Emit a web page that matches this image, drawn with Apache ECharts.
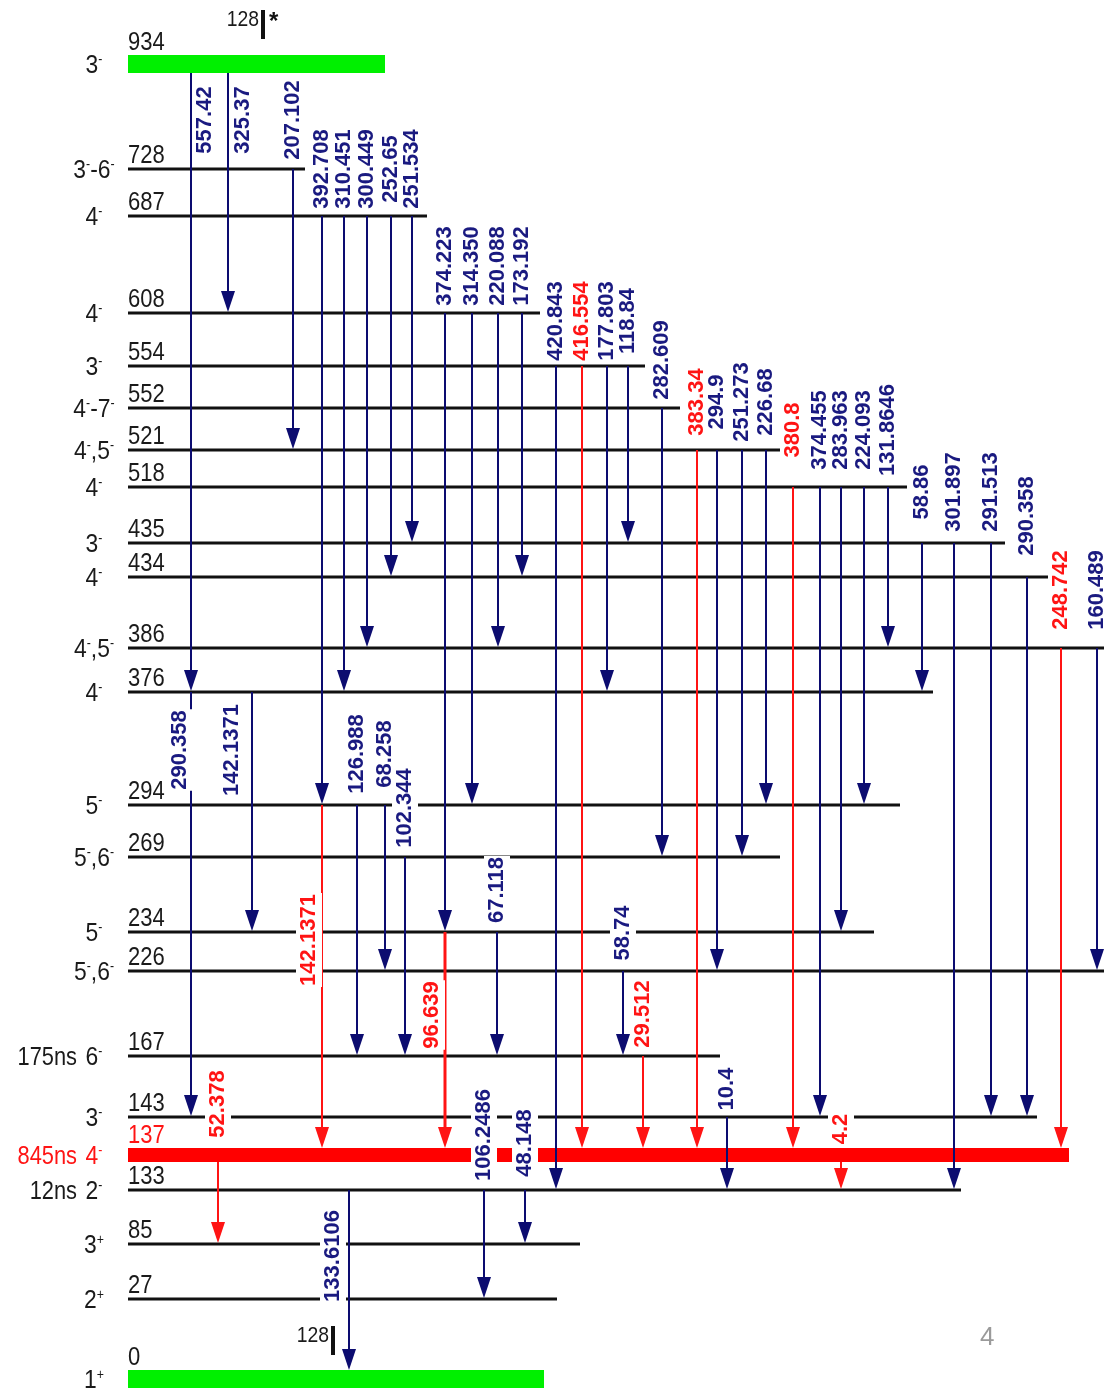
<!DOCTYPE html>
<html>
<head>
<meta charset="utf-8">
<script src="https://cdn.jsdelivr.net/npm/echarts@6/dist/echarts.min.js"></script>
<style>
html, body { margin: 0; padding: 0; background: #fff; }
#chart { width: 1104px; height: 1390px; }
</style>
</head>
<body>
<div id="chart"></div>
<script>
// ---- levels (keV) ----
var levelEnergy = [934, 728, 687, 608, 554, 552, 521, 518, 435, 434, 386, 376, 294, 269, 234, 226, 167, 143, 137, 133, 85, 27, 0];
var levelSpin = ['3^-', '3^--6^-', '4^-', '4^-', '3^-', '4^--7^-', '4^-,5^-', '4^-', '3^-', '4^-', '4^-,5^-', '4^-',
    '5^-', '5^-,6^-', '5^-', '5^-,6^-', '6^-', '3^-', '4^-', '2^-', '3^+', '2^+', '1^+'];
var levelHalfLife = ['', '', '', '', '', '', '', '', '', '', '', '', '', '', '', '', '175ns', '', '845ns', '12ns', '', '', ''];
var greenLevels = [934, 0];
var isomerLevels = [137];

// schematic placement of the levels on the drawing
var levelRow = [64, 169, 216, 313, 366, 408, 450, 487, 543, 577, 648, 692, 805, 857, 932, 971, 1056, 1117, 1155, 1190, 1244, 1299, 1379];
var levelEnd = [385, 305, 427, 540, 645, 680, 780, 907, 1005, 1048, 1104, 933, 900, 780, 874, 1104, 720, 1037, 1069, 961, 580, 557, 544];

// ---- gamma transitions ----
var gammaLabel = ['557.42', '325.37', '207.102', '392.708', '310.451', '300.449', '252.65', '251.534',
    '374.223', '314.350', '220.088', '173.192', '420.843', '416.554', '177.803', '118.84', '282.609',
    '383.34', '294.9', '251.273', '226.68', '380.8', '374.455', '283.963', '224.093', '131.8646',
    '58.86', '301.897', '291.513', '290.358', '248.742', '160.489', '290.358', '142.1371', '126.988',
    '68.258', '102.344', '142.1371', '67.118', '96.639', '58.74', '29.512', '10.4', '52.378', '4.2',
    '106.2486', '48.148', '133.6106'];
var gammaFrom = [934, 934, 728, 687, 687, 687, 687, 687, 608, 608, 608, 608, 554, 554, 554, 554, 552,
    521, 521, 521, 521, 518, 518, 518, 518, 518, 435, 435, 435, 434, 386, 386, 376, 376, 294,
    294, 269, 294, 234, 234, 226, 167, 143, 137, 137, 133, 133, 133];
var gammaTo = [376, 608, 521, 294, 376, 386, 434, 435, 234, 294, 386, 434, 133, 137, 376, 435, 269,
    137, 226, 269, 294, 137, 143, 234, 294, 386, 376, 133, 143, 143, 137, 226, 143, 234, 167,
    226, 167, 137, 167, 137, 167, 137, 133, 85, 133, 27, 85, 0];
var gammaRed = [0, 0, 0, 0, 0, 0, 0, 0, 0, 0, 0, 0, 0, 1, 0, 0, 0, 1, 0, 0, 0, 1, 0, 0, 0, 0,
    0, 0, 0, 0, 1, 0, 0, 0, 0, 0, 0, 1, 0, 1, 0, 1, 0, 1, 1, 0, 0, 0];

// layout of the arrows: column and where the rotated label sits
var gammaX = [191, 228, 293, 322, 344, 367, 391, 412, 445, 472, 498, 522, 556, 582, 607, 628, 662,
    697, 717, 742, 766, 793, 820, 841, 864, 888, 922, 954, 991, 1027, 1061, 1097, 191, 252, 357,
    385, 405, 322, 497, 445, 623, 643, 727, 218, 841, 484, 525, 349];
var gammaLabelY = [120, 120, 120, 169, 169, 169, 169, 169, 266, 266, 266, 266, 321, 321, 321, 321, 360,
    402, 402, 402, 402, 430, 430, 430, 430, 430, 492, 492, 492, 516, 590, 590, 750, 750, 754,
    754, 808, 940, 890, 1015, 933, 1014, 1089, 1104, 1129, 1135, 1143, 1256];
var gammaLabelDx = [14, 15, 0, 0, 0, 0, 0, 0, 0, 0, 0, 0, 0, 0, 0, 0, 0, 0, 0, 0, 0, 0, 0, 0, 0, 0,
    0, 0, 0, 0, 0, 0, -11, -20, 0, 0, 0, -13, 0, -13, 0, 0, 0, 0, 0, 0, 0, -16];

// isomer markers (128 ...)
var markerText = ['128', '128'];
var markerStar = ['*', ''];
var markerX = [261, 331];
var markerRow = [24, 1340];

var LEVEL_X0 = 128;
var NAVY = '#0c0c70';
var RED = '#ff1414';
var SANS = '"Liberation Sans", Arial, Helvetica, sans-serif';
var NARROW_SCALE = 0.88;   // the scheme uses a condensed face

var rowOf = {};
levelEnergy.forEach(function (e, i) { rowOf[e] = levelRow[i]; });

function halfThick(e) {
    if (greenLevels.indexOf(e) >= 0) return 9;
    if (isomerLevels.indexOf(e) >= 0) return 7;
    return 1.5;
}

function spinRich(t) {
    return t.split(/(\^[-+])/).filter(Boolean).map(function (p) {
        return p.charAt(0) === '^' ? '{s|' + p.charAt(1) + '}' : '{a|' + p + '}';
    }).join('');
}

var myChart = echarts.init(document.getElementById('chart'));

function renderLevel(params, api) {
    var e = api.value(0);
    var row = api.value(1);
    var p0 = api.coord([LEVEL_X0, row]);
    var p1 = api.coord([api.value(2), row]);
    var h = halfThick(e);
    var isIso = isomerLevels.indexOf(e) >= 0;
    var txt = isIso ? RED : '#1a1a1a';
    var children = [];
    if (h > 2) {
        children.push({
            type: 'rect',
            shape: { x: p0[0], y: p0[1] - h, width: p1[0] - p0[0], height: 2 * h },
            style: { fill: isIso ? '#ff0000' : '#00f000' }
        });
    } else {
        children.push({
            type: 'line',
            shape: { x1: p0[0], y1: p0[1], x2: p1[0], y2: p1[1] },
            style: { stroke: '#111', lineWidth: 3 }
        });
    }
    children.push({
        type: 'text', x: p0[0], y: p0[1] - h + 1, scaleX: NARROW_SCALE,
        style: { text: String(e), fill: txt, font: '25px ' + SANS, align: 'left', verticalAlign: 'bottom' }
    });
    var sx = api.coord([94, row]);
    children.push({
        type: 'text', x: sx[0], y: sx[1] + 2, scaleX: NARROW_SCALE,
        style: {
            text: spinRich(levelSpin[params.dataIndex]), align: 'center', verticalAlign: 'middle',
            rich: {
                a: { fontSize: 26, fontFamily: SANS, fill: txt },
                s: { fontSize: 14, fontFamily: SANS, fill: txt, verticalAlign: 'top' }
            }
        }
    });
    var hl = levelHalfLife[params.dataIndex];
    if (hl) {
        var hx = api.coord([77, row]);
        children.push({
            type: 'text', x: hx[0], y: hx[1] + 2, scaleX: 0.84,
            style: { text: hl, fill: txt, font: '26px ' + SANS, align: 'right', verticalAlign: 'middle' }
        });
    }
    return { type: 'group', children: children };
}

function renderGamma(params, api) {
    var i = params.dataIndex;
    var from = api.value(0), to = api.value(1), x = api.value(2);
    var a = api.coord([x, rowOf[from]]);
    var b = api.coord([x, rowOf[to]]);
    var y0 = a[1] + (halfThick(from) > 2 ? halfThick(from) : 0);
    var tip = b[1] - (halfThick(to) > 2 ? halfThick(to) : 1);
    var color = gammaRed[i] ? RED : NAVY;
    var w = gammaLabel[i] === '96.639' ? 3 : 2;
    return {
        type: 'group',
        children: [{
            type: 'line',
            shape: { x1: a[0], y1: y0, x2: a[0], y2: tip - 16 },
            style: { stroke: color, lineWidth: w }
        }, {
            type: 'polygon',
            shape: { points: [[a[0] - 7, tip - 21], [a[0] + 7, tip - 21], [a[0], tip]] },
            style: { fill: color }
        }]
    };
}

function renderGammaLabel(params, api) {
    var i = params.dataIndex;
    var p = api.coord([api.value(0) + api.value(2), api.value(1)]);
    return {
        type: 'text', x: p[0], y: p[1], rotation: Math.PI / 2,
        style: {
            text: gammaLabel[i], fill: gammaRed[i] ? RED : '#1a1a80',
            font: 'bold 22px ' + SANS, align: 'center', verticalAlign: 'middle',
            backgroundColor: '#fff', padding: [2, 1]
        }
    };
}

function renderMarker(params, api) {
    var i = params.dataIndex;
    var p = api.coord([api.value(0), api.value(1)]);
    var kids = [{
        type: 'rect', shape: { x: p[0], y: p[1] - 14, width: 4, height: 29 }, style: { fill: '#111' }
    }, {
        type: 'text', x: p[0] - 2, y: p[1] - 4, scaleX: NARROW_SCALE,
        style: { text: markerText[i], fill: '#1a1a1a', font: '22px ' + SANS, align: 'right', verticalAlign: 'middle' }
    }];
    if (markerStar[i]) {
        kids.push({
            type: 'text', x: p[0] + 8, y: p[1] - 2,
            style: { text: markerStar[i], fill: '#111', font: 'bold 24px ' + SANS, align: 'left', verticalAlign: 'middle' }
        });
    }
    return { type: 'group', children: kids };
}

var myoption = {
    animation: false,
    backgroundColor: '#fff',
    grid: { left: 0, right: 0, top: 0, bottom: 0 },
    xAxis: { type: 'value', min: 0, max: 1104, show: false },
    yAxis: { type: 'value', min: 0, max: 1390, inverse: true, show: false },
    series: [{
        type: 'custom', name: 'levels', z: 2,
        renderItem: renderLevel,
        data: levelEnergy.map(function (e, i) { return [e, levelRow[i], levelEnd[i]]; })
    }, {
        type: 'custom', name: 'gammas', z: 3,
        renderItem: renderGamma,
        data: gammaLabel.map(function (g, i) { return [gammaFrom[i], gammaTo[i], gammaX[i]]; })
    }, {
        type: 'custom', name: 'gamma labels', z: 4,
        renderItem: renderGammaLabel,
        data: gammaLabel.map(function (g, i) { return [gammaX[i], gammaLabelY[i], gammaLabelDx[i]]; })
    }, {
        type: 'custom', name: 'markers', z: 4,
        renderItem: renderMarker,
        data: markerText.map(function (m, i) { return [markerX[i], markerRow[i]]; })
    }],
    graphic: [{
        type: 'text', left: 980, top: 1325,
        style: { text: '4', fill: '#9a9a9a', font: '26px ' + SANS }
    }]
};
myChart.setOption(myoption);

window.onresize = function () {
    myChart.resize();
};
</script>
</body>
</html>
